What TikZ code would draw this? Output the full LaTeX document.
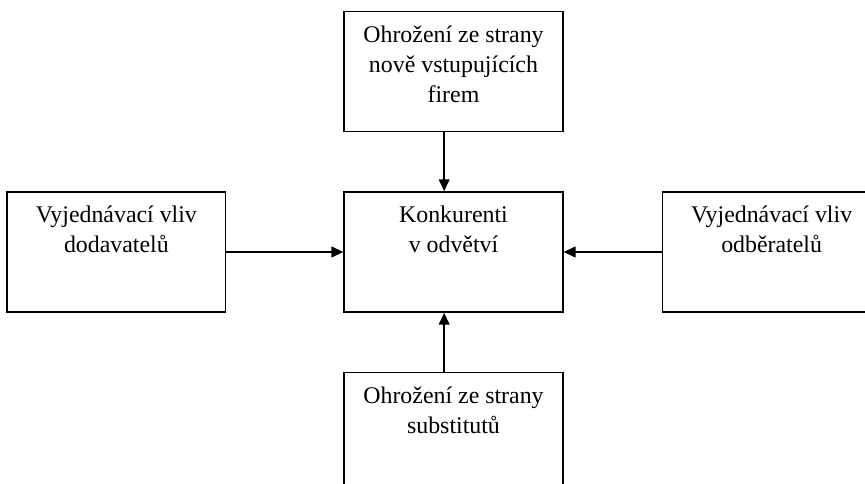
\documentclass[tikz,border=0pt]{standalone}
\usepackage{fontspec}
\setmainfont{Liberation Serif}
\usetikzlibrary{arrows.meta,positioning}

\begin{document}
\begin{tikzpicture}[x=0.75pt,y=-0.75pt,->,>={Triangle[length=9pt,width=8pt]},
            line width=1.5pt]
        \tikzstyle{box}=[draw=black,line width=1.1pt,rectangle,minimum width=164pt,
            minimum height=90pt,inner sep=0pt]
        \tikzstyle{boxtext}=[anchor=north,align=center,inner sep=0pt,yshift=-10.3pt,
            font=\fontsize{17.9}{22.5}\selectfont]

        \clip (0,0) rectangle (865,484);

        \node[box, label={[boxtext]north:{Konkurenti\\v odvětví}}] (ko) at (453.5,252) {};
        \node[box, label={[boxtext]north:{Ohrožení ze strany\\nově vstupujících\\firem}}] (nv) [above=44.25pt of ko] {};
        \node[box, label={[boxtext]north:{Vyjednávací vliv\\dodavatelů}}] (do) [left=87.75pt of ko] {};
        \node[box, label={[boxtext]north:{Vyjednávací vliv\\odběratelů}}] (od) [right=73.5pt of ko] {};
        \node[box, label={[boxtext]north:{Ohrožení ze strany\\substitutů}}] (su) [below=44.25pt of ko] {};

        \draw ([xshift=-7pt]nv.south) -- ([xshift=-7pt]ko.north);
        \draw (do) -- (ko);
        \draw (od) -- (ko);
        \draw ([xshift=-7pt]su.north) -- ([xshift=-7pt]ko.south);
    \end{tikzpicture}
\end{document}
